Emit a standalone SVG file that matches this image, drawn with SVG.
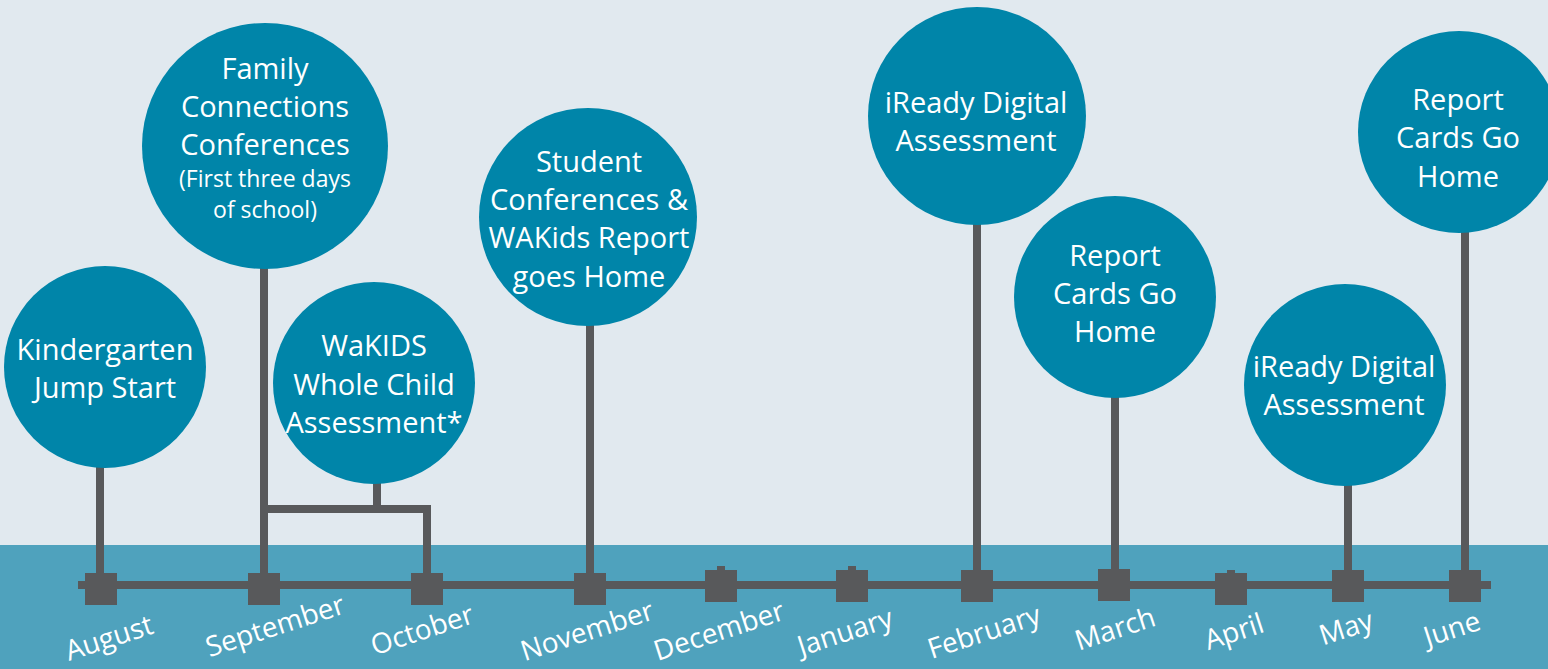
<svg xmlns="http://www.w3.org/2000/svg" width="1548" height="669" viewBox="0 0 1548 669">
<style>
.bg{fill:#e1e9ef}
.band{fill:#4fa2bd}
.node{fill:#0085a9}
.t{font-family:"Open Sans","Noto Sans","Liberation Sans",sans-serif;font-size:29px;fill:#ffffff;text-anchor:middle}
.s{font-size:23px}
.m{font-family:"Open Sans","Noto Sans","Liberation Sans",sans-serif;font-size:28px;fill:#ffffff;text-anchor:middle}
.ln{stroke:#58595b;stroke-width:8;fill:none}
.mk{fill:#58595b}
</style>
<rect class="bg" x="0" y="0" width="1548" height="669"/>
<rect class="band" x="0" y="545" width="1548" height="124"/>

<g id="connectors">
<line class="ln" x1="100" y1="466" x2="100" y2="575"/>
<line class="ln" x1="264" y1="267" x2="264" y2="575"/>
<line class="ln" x1="377" y1="481" x2="377" y2="509"/>
<polyline class="ln" points="264,509 427,509 427,575"/>
<line class="ln" x1="590" y1="324" x2="590" y2="575"/>
<line class="ln" x1="977" y1="223" x2="977" y2="572"/>
<line class="ln" x1="1115" y1="396" x2="1115" y2="571"/>
<line class="ln" x1="1348" y1="485" x2="1348" y2="572"/>
<line class="ln" x1="1465" y1="231" x2="1465" y2="572"/>
</g>

<g id="timeline">
<rect class="mk" x="78" y="581" width="1413" height="8"/>
<rect class="mk" x="85" y="573" width="32" height="32"/>
<rect class="mk" x="248" y="573" width="32" height="32"/>
<rect class="mk" x="411" y="573" width="32" height="32"/>
<rect class="mk" x="574" y="573" width="32" height="32"/>
<rect class="mk" x="705" y="570" width="32" height="32"/>
<rect class="mk" x="717" y="566" width="8" height="5"/>
<rect class="mk" x="836" y="570" width="32" height="32"/>
<rect class="mk" x="848" y="566" width="8" height="5"/>
<rect class="mk" x="961" y="570" width="32" height="32"/>
<rect class="mk" x="1098" y="569" width="32" height="32"/>
<rect class="mk" x="1215" y="573" width="32" height="32"/>
<rect class="mk" x="1227" y="570" width="8" height="4"/>
<rect class="mk" x="1332" y="570" width="32" height="32"/>
<rect class="mk" x="1449" y="570" width="32" height="32"/>
</g>

<g id="months">
<text class="m" x="112" y="647" transform="rotate(-18 112 647)">August</text>
<text class="m" x="278" y="635" transform="rotate(-18 278 635)">September</text>
<text class="m" x="425" y="639" transform="rotate(-18 425 639)">October</text>
<text class="m" x="590" y="640" transform="rotate(-18 590 640)">November</text>
<text class="m" x="722" y="640" transform="rotate(-18 722 640)">December</text>
<text class="m" x="848" y="641" transform="rotate(-18 848 641)">January</text>
<text class="m" x="987" y="641" transform="rotate(-18 987 641)">February</text>
<text class="m" x="1118" y="638" transform="rotate(-18 1118 638)">March</text>
<text class="m" x="1237" y="641" transform="rotate(-18 1237 641)">April</text>
<text class="m" x="1349" y="637" transform="rotate(-18 1349 637)">May</text>
<text class="m" x="1455" y="638" transform="rotate(-18 1455 638)">June</text>
</g>

<g id="node-kindergarten">
<circle class="node" cx="105" cy="367" r="101"/>
<text class="t" x="105" y="360">Kindergarten</text>
<text class="t" x="105" y="398">Jump Start</text>
</g>

<g id="node-family">
<circle class="node" cx="265" cy="146" r="123"/>
<text class="t" x="265" y="79">Family</text>
<text class="t" x="265" y="117">Connections</text>
<text class="t" x="265" y="155">Conferences</text>
<text class="t s" x="265" y="187">(First three days</text>
<text class="t s" x="265" y="218">of school)</text>
</g>

<g id="node-wakids">
<circle class="node" cx="374" cy="383" r="101"/>
<text class="t" x="374" y="356">WaKIDS</text>
<text class="t" x="374" y="395">Whole Child</text>
<text class="t" x="374" y="433">Assessment*</text>
</g>

<g id="node-student">
<circle class="node" cx="588" cy="217" r="109"/>
<text class="t" x="589" y="172">Student</text>
<text class="t" x="589" y="210">Conferences &amp;</text>
<text class="t" x="589" y="248">WAKids Report</text>
<text class="t" x="589" y="287">goes Home</text>
</g>

<g id="node-iready-feb">
<circle class="node" cx="977" cy="116" r="109"/>
<text class="t" x="976" y="113">iReady Digital</text>
<text class="t" x="976" y="151">Assessment</text>
</g>

<g id="node-report-mar">
<circle class="node" cx="1115" cy="297" r="101"/>
<text class="t" x="1115" y="266">Report</text>
<text class="t" x="1115" y="304">Cards Go</text>
<text class="t" x="1115" y="342">Home</text>
</g>

<g id="node-iready-may">
<circle class="node" cx="1345" cy="385" r="101"/>
<text class="t" x="1344" y="377">iReady Digital</text>
<text class="t" x="1344" y="415">Assessment</text>
</g>

<g id="node-report-jun">
<circle class="node" cx="1459" cy="132" r="101"/>
<text class="t" x="1458" y="110">Report</text>
<text class="t" x="1458" y="148">Cards Go</text>
<text class="t" x="1458" y="187">Home</text>
</g>
</svg>
